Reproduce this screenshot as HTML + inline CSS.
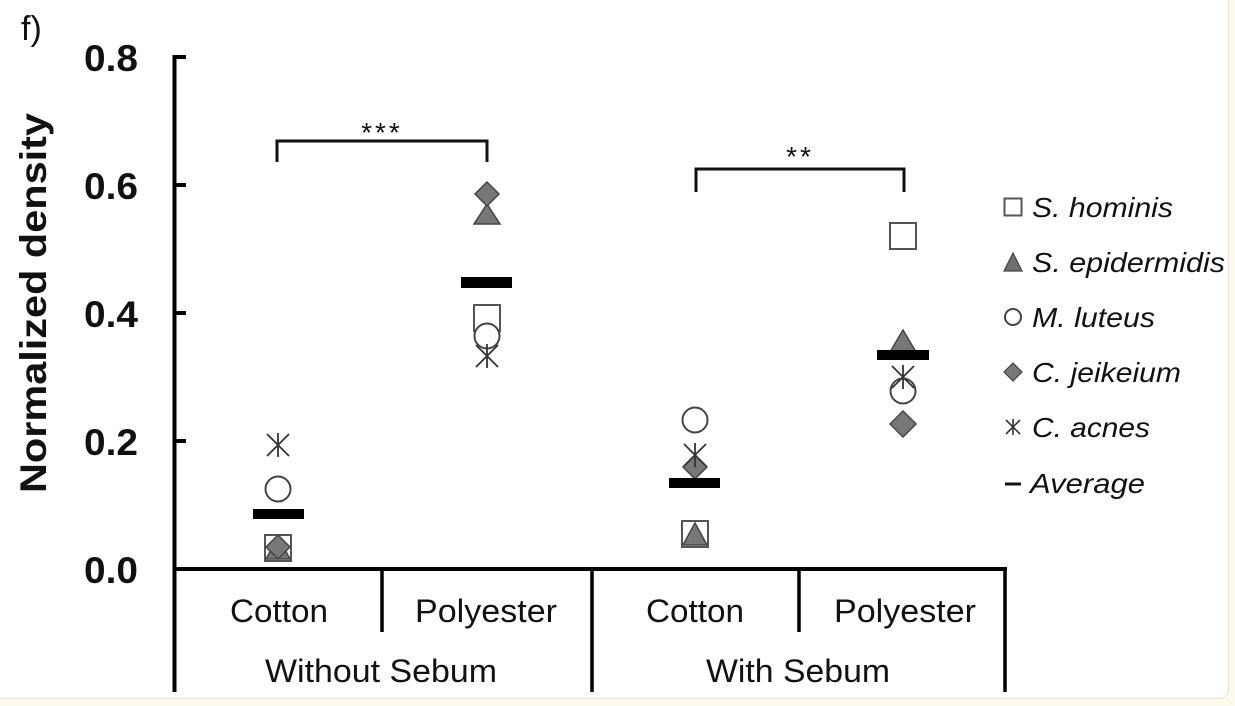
<!DOCTYPE html>
<html>
<head>
<meta charset="utf-8">
<style>
  html, body { margin:0; padding:0; }
  body { width:1235px; height:706px; overflow:hidden; background:#fdf9ec; position:relative; }
  .panel { position:absolute; left:-12px; top:-12px; width:1239px; height:709px; background:#ffffff; border:1px solid #e4e2da; border-radius:10px; }
  svg { position:absolute; left:0; top:0; }
  text { font-family:"Liberation Sans", Arial, sans-serif; fill:#111; }
</style>
</head>
<body>
<div class="panel"></div>
<svg width="1235" height="706" viewBox="0 0 1235 706" xmlns="http://www.w3.org/2000/svg">
  <!-- panel label -->
  <text x="21" y="40" font-size="34">f)</text>

  <!-- Y axis label -->
  <text transform="translate(46,303) rotate(-90)" text-anchor="middle" font-size="37" font-weight="bold" textLength="380" lengthAdjust="spacingAndGlyphs">Normalized density</text>

  <!-- Y tick labels -->
  <g font-size="37" font-weight="bold" text-anchor="end">
    <text x="138" y="71" textLength="54" lengthAdjust="spacingAndGlyphs">0.8</text>
    <text x="138" y="199" textLength="54" lengthAdjust="spacingAndGlyphs">0.6</text>
    <text x="138" y="327" textLength="54" lengthAdjust="spacingAndGlyphs">0.4</text>
    <text x="138" y="455" textLength="54" lengthAdjust="spacingAndGlyphs">0.2</text>
    <text x="138" y="583" textLength="54" lengthAdjust="spacingAndGlyphs">0.0</text>
  </g>

  <!-- Axes -->
  <g stroke="#000" fill="none">
    <line x1="174.5" y1="55" x2="174.5" y2="692" stroke-width="4"/>
    <line x1="174.5" y1="57" x2="186" y2="57" stroke-width="4"/>
    <line x1="174.5" y1="185" x2="186" y2="185" stroke-width="4"/>
    <line x1="174.5" y1="313" x2="186" y2="313" stroke-width="4"/>
    <line x1="174.5" y1="441" x2="186" y2="441" stroke-width="4"/>
    <line x1="172.5" y1="569" x2="1007" y2="569" stroke-width="4"/>
    <line x1="382" y1="569" x2="382" y2="632" stroke-width="3.5"/>
    <line x1="592" y1="569" x2="592" y2="692" stroke-width="3.5"/>
    <line x1="799" y1="569" x2="799" y2="632" stroke-width="3.5"/>
    <line x1="1005" y1="569" x2="1005" y2="692" stroke-width="3.5"/>
  </g>

  <!-- Category labels -->
  <g font-size="32" text-anchor="middle">
    <text x="279" y="622" textLength="98" lengthAdjust="spacingAndGlyphs">Cotton</text>
    <text x="486" y="622" textLength="142" lengthAdjust="spacingAndGlyphs">Polyester</text>
    <text x="695" y="622" textLength="98" lengthAdjust="spacingAndGlyphs">Cotton</text>
    <text x="905" y="622" textLength="142" lengthAdjust="spacingAndGlyphs">Polyester</text>
    <text x="381" y="682" textLength="232" lengthAdjust="spacingAndGlyphs">Without Sebum</text>
    <text x="798" y="682" textLength="184" lengthAdjust="spacingAndGlyphs">With Sebum</text>
  </g>

  <!-- Significance brackets -->
  <g stroke="#111" fill="none" stroke-width="3">
    <path d="M277,162 V141 H487 V162"/>
    <path d="M696,192 V169 H904 V192"/>
  </g>
  <g font-size="28" text-anchor="middle" fill="#222">
    <text x="382" y="142" letter-spacing="3">***</text>
    <text x="800" y="166" letter-spacing="3">**</text>
  </g>

  <!-- ===== Data markers ===== -->
  <!-- Group 1: Cotton without sebum (cx 278) -->
  <g>
    <rect x="265" y="535" width="26" height="26" fill="none" stroke="#555" stroke-width="2"/>
    <polygon points="278,537 266,559 290,559" fill="#777" stroke="#444" stroke-width="1.5"/>
    <circle cx="278" cy="489" r="12.5" fill="none" stroke="#444" stroke-width="2"/>
    <polygon points="278,535 290,547 278,559 266,547" fill="#777" stroke="#444" stroke-width="1.5"/>
    <g stroke="#333" stroke-width="1.8">
      <line x1="278" y1="433" x2="278" y2="457"/>
      <line x1="267" y1="434" x2="289" y2="456"/>
      <line x1="289" y1="434" x2="267" y2="456"/>
    </g>
    <rect x="253" y="509" width="51" height="10" fill="#000"/>
  </g>

  <!-- Group 2: Polyester without sebum (cx 487) -->
  <g>
    <rect x="474" y="305" width="26" height="26" fill="none" stroke="#555" stroke-width="2"/>
    <polygon points="487,204 474,224 500,224" fill="#777" stroke="#444" stroke-width="1.5"/>
    <circle cx="487" cy="336" r="12.5" fill="#fff" stroke="#444" stroke-width="2"/>
    <polygon points="487,182 499,194 487,206 475,194" fill="#777" stroke="#444" stroke-width="1.5"/>
    <g stroke="#333" stroke-width="1.8">
      <line x1="487" y1="344" x2="487" y2="368"/>
      <line x1="476" y1="345" x2="498" y2="367"/>
      <line x1="498" y1="345" x2="476" y2="367"/>
    </g>
    <rect x="461" y="277" width="51" height="11" fill="#000"/>
  </g>

  <!-- Group 3: Cotton with sebum (cx 695) -->
  <g>
    <rect x="682" y="521" width="26" height="26" fill="none" stroke="#555" stroke-width="2"/>
    <polygon points="695,523 683,545 707,545" fill="#777" stroke="#444" stroke-width="1.5"/>
    <circle cx="695" cy="420" r="12.5" fill="none" stroke="#444" stroke-width="2"/>
    <polygon points="695,455 707,467 695,479 683,467" fill="#777" stroke="#444" stroke-width="1.5"/>
    <g stroke="#333" stroke-width="1.8">
      <line x1="695" y1="443" x2="695" y2="467"/>
      <line x1="684" y1="444" x2="706" y2="466"/>
      <line x1="706" y1="444" x2="684" y2="466"/>
    </g>
    <rect x="669" y="478" width="51" height="10" fill="#000"/>
  </g>

  <!-- Group 4: Polyester with sebum (cx 903) -->
  <g>
    <rect x="890" y="223" width="26" height="26" fill="none" stroke="#555" stroke-width="2"/>
    <polygon points="903,330 890,352 916,352" fill="#777" stroke="#444" stroke-width="1.5"/>
    <circle cx="903" cy="391" r="12.5" fill="none" stroke="#444" stroke-width="2"/>
    <polygon points="903,411 916,424 903,437 890,424" fill="#777" stroke="#444" stroke-width="1.5"/>
    <g stroke="#333" stroke-width="1.8">
      <line x1="903" y1="365" x2="903" y2="389"/>
      <line x1="892" y1="366" x2="914" y2="388"/>
      <line x1="914" y1="366" x2="892" y2="388"/>
    </g>
    <rect x="877" y="350" width="52" height="10" fill="#000"/>
  </g>

  <!-- ===== Legend ===== -->
  <g>
    <rect x="1004.5" y="198.5" width="17" height="17" fill="none" stroke="#555" stroke-width="2"/>
    <polygon points="1013,253 1004,271 1022,271" fill="#6f6f6f" stroke="#444" stroke-width="1.2"/>
    <circle cx="1013" cy="317" r="8" fill="none" stroke="#444" stroke-width="2"/>
    <polygon points="1013,363 1022,372 1013,381 1004,372" fill="#777" stroke="#444" stroke-width="1.2"/>
    <g stroke="#333" stroke-width="1.6">
      <line x1="1013" y1="419" x2="1013" y2="435"/>
      <line x1="1006" y1="420" x2="1020" y2="434"/>
      <line x1="1020" y1="420" x2="1006" y2="434"/>
    </g>
    <line x1="1005" y1="484" x2="1021" y2="484" stroke="#111" stroke-width="3"/>
  </g>
  <g font-size="28" font-style="italic">
    <text x="1032" y="217" textLength="141" lengthAdjust="spacingAndGlyphs">S. hominis</text>
    <text x="1032" y="272" textLength="193" lengthAdjust="spacingAndGlyphs">S. epidermidis</text>
    <text x="1032" y="327" textLength="123" lengthAdjust="spacingAndGlyphs">M. luteus</text>
    <text x="1032" y="382" textLength="149" lengthAdjust="spacingAndGlyphs">C. jeikeium</text>
    <text x="1032" y="437" textLength="118" lengthAdjust="spacingAndGlyphs">C. acnes</text>
    <text x="1030" y="493" textLength="115" lengthAdjust="spacingAndGlyphs">Average</text>
  </g>
</svg>
</body>
</html>
